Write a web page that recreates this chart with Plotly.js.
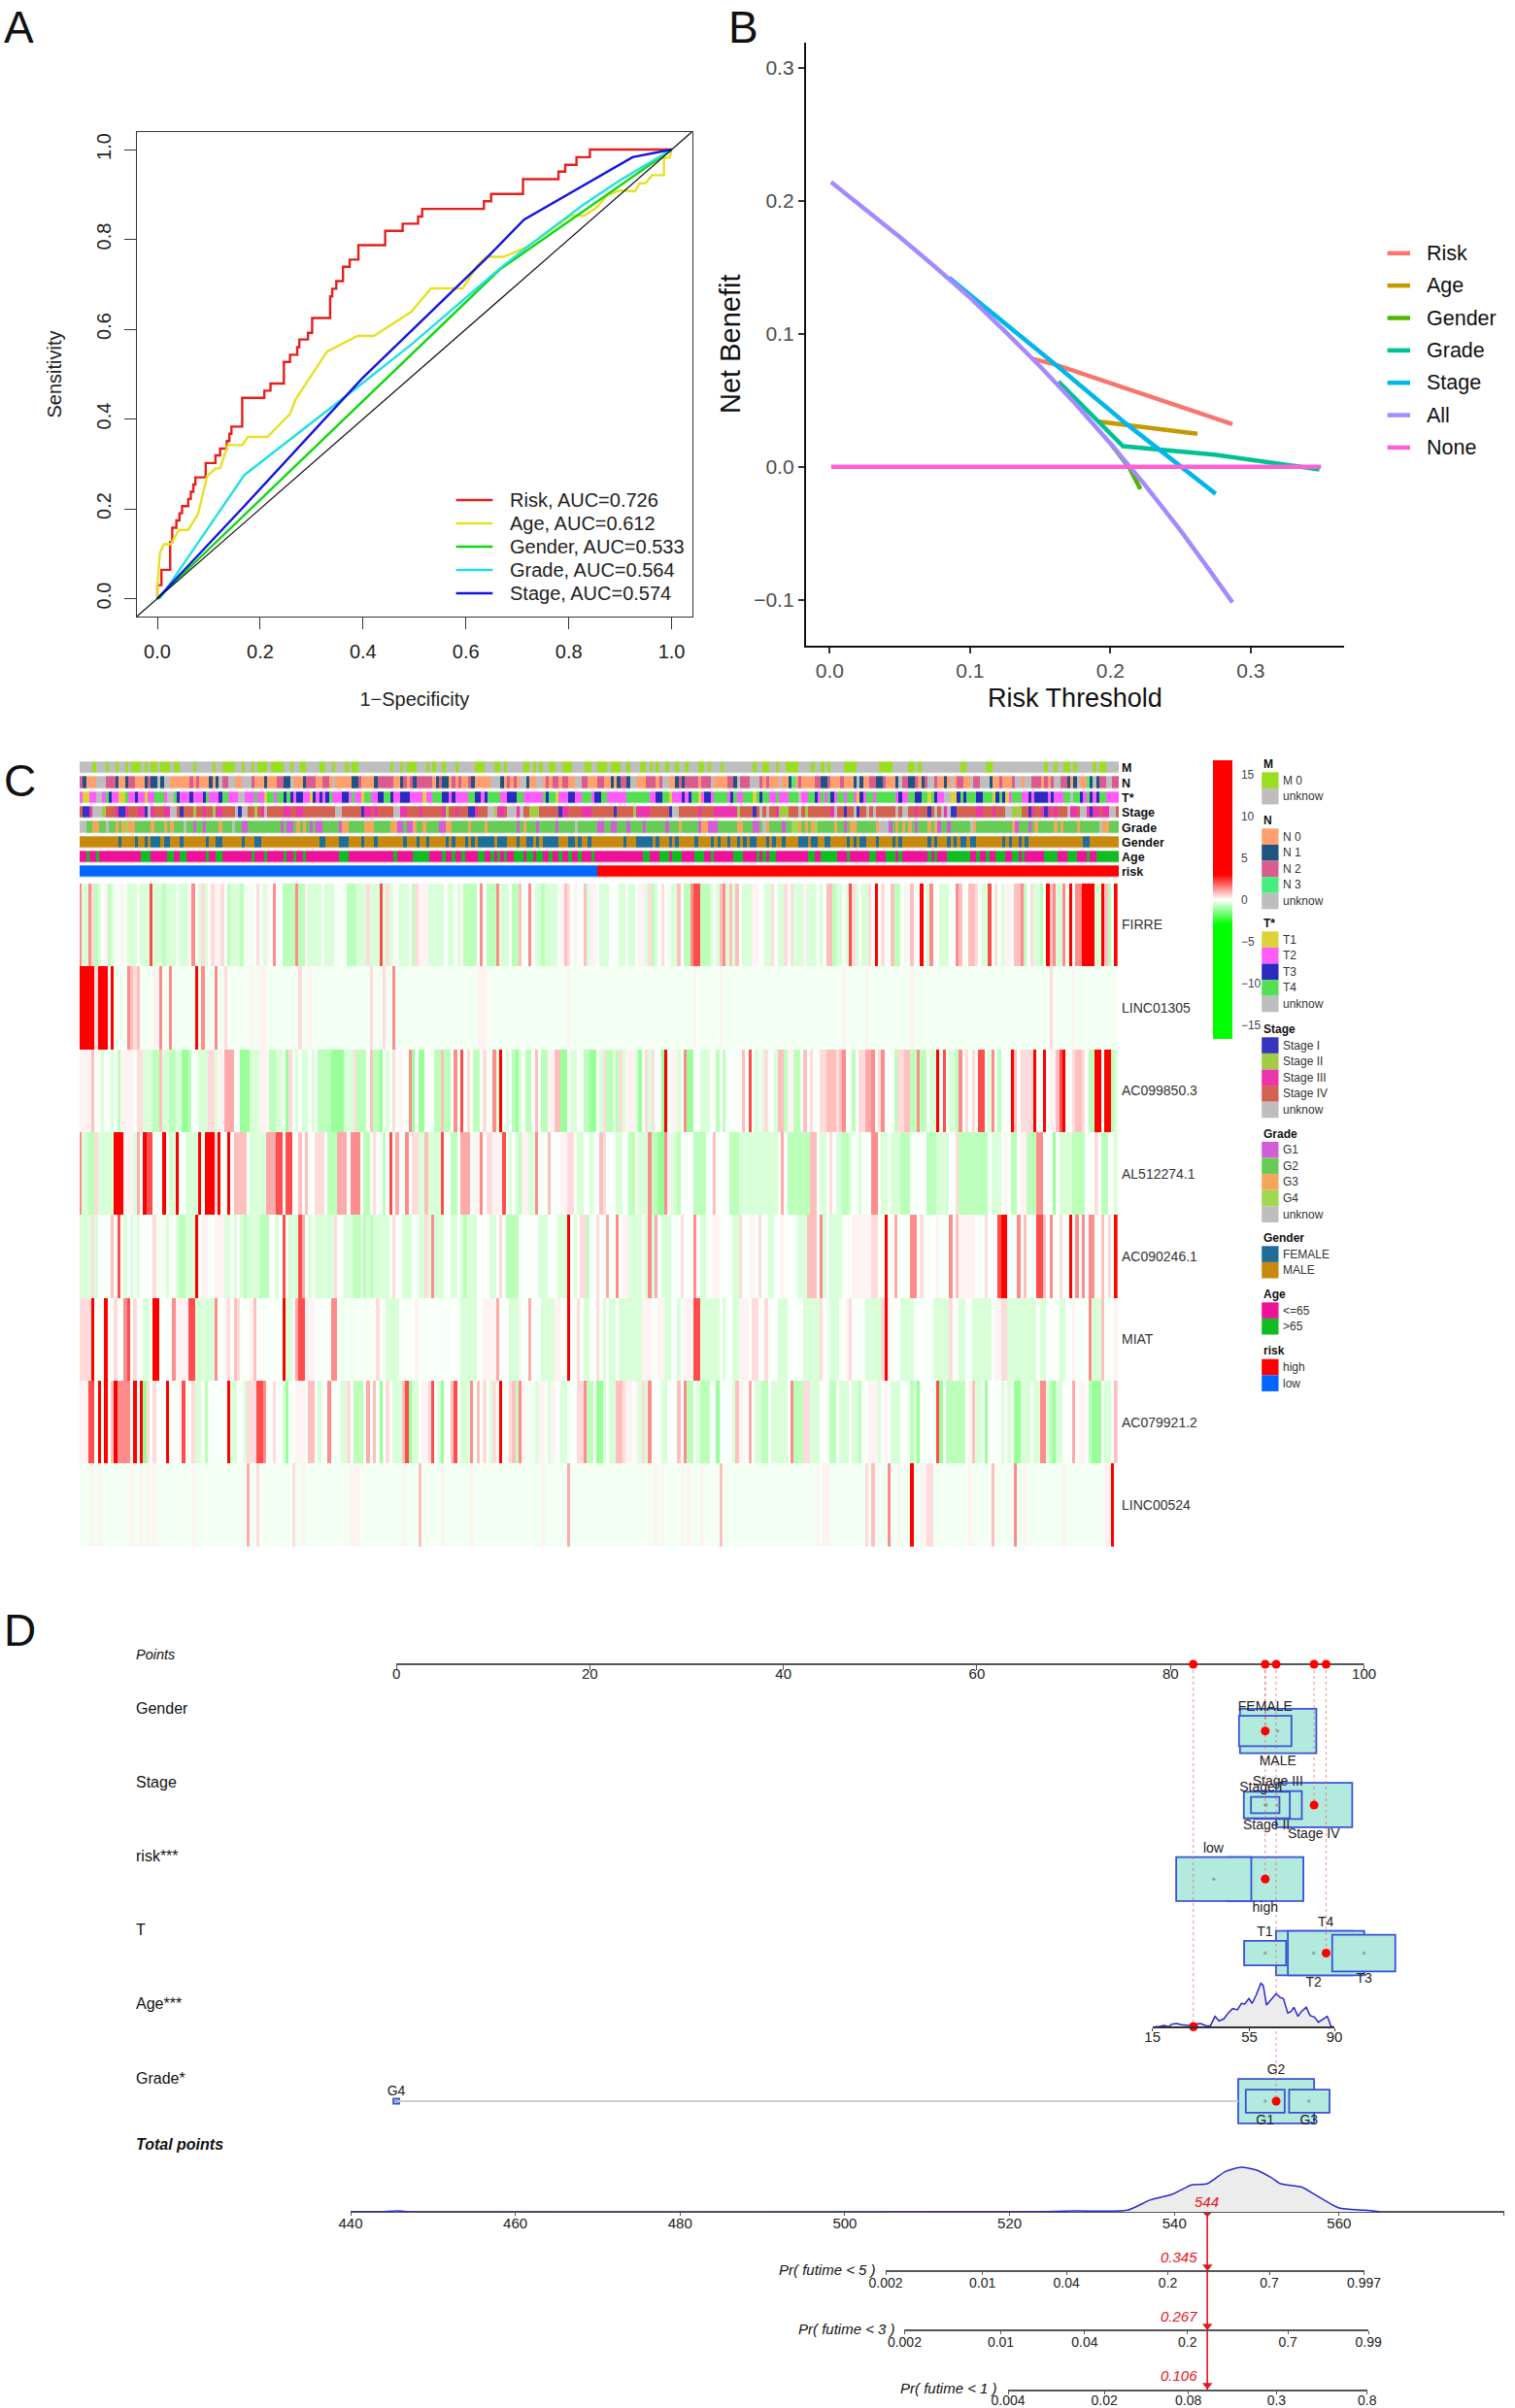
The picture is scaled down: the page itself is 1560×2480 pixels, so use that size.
<!DOCTYPE html>
<html><head><meta charset="utf-8">
<script src="https://cdn.plot.ly/plotly-3.0.1.min.js"></script>
<style>html,body{margin:0;padding:0;background:#fff}</style></head>
<body><div id="c" style="width:1560px;height:2480px"></div>
<script>
// ---------- Panel A: ROC ----------
const rocRiskX=[0,0,.008,.025,.029,.037,.043,.048,.06,.065,.07,.074,.094,.113,.122,.135,.14,.144,.165,.208,.22,.246,.258,.272,.276,.293,.301,.336,.34,.348,.361,.374,.391,.443,.477,.507,.515,.635,.649,.711,.78,.793,.815,.841,1];
const rocRiskY=[0,.03,.064,.126,.158,.174,.19,.206,.222,.238,.254,.27,.302,.319,.334,.351,.367,.383,.447,.463,.479,.527,.543,.56,.577,.592,.625,.673,.69,.707,.739,.755,.787,.819,.835,.851,.868,.885,.901,.934,.951,.966,.983,1,1];
const rocAgeX=[0,0,.005,.013,.026,.042,.06,.079,.097,.113,.122,.137,.165,.176,.214,.258,.269,.33,.389,.421,.494,.532,.594,.621,.639,.673,.719,.804,.831,.853,.875,.898,.929,.938,.949,.962,.985,.985,.996,1];
const rocAgeY=[0,.028,.102,.121,.121,.153,.153,.188,.273,.29,.29,.342,.342,.36,.36,.411,.444,.55,.585,.585,.639,.691,.691,.74,.761,.761,.783,.853,.853,.87,.898,.909,.907,.925,.925,.943,.943,.982,.982,1];
const rocGenderX=[0,.666,1];
const rocGenderY=[0,.733,1];
const rocGradeX=[0,.006,.169,.229,.398,.496,.666,.719,.826,.897,1];
const rocGradeY=[0,.002,.275,.328,.479,.568,.735,.783,.875,.93,1];
const rocStageX=[0,.169,.398,.639,.713,.924,1];
const rocStageY=[0,.206,.49,.757,.844,.983,1];
const rocLegend=['Risk, AUC=0.726','Age, AUC=0.612','Gender, AUC=0.533','Grade, AUC=0.564','Stage, AUC=0.574'];
const rocColors=['#e4201c','#e8e020','#10d810','#20e0e0','#1414e0'];

// ---------- Panel B: DCA ----------
const dcaNames=['Risk','Age','Gender','Grade','Stage','All','None'];
const dcaColors=['#F8766D','#C49A00','#53B400','#00C094','#00B6EB','#A58AFF','#FB61D7'];
const dcaX=[
 [.145,.16,.287],
 [.1906,.262],
 [.2,.2136,.2214],
 [.163,.209,.274,.349],
 [.085,.16,.211,.275],
 [.001,.025,.05,.075,.1,.125,.15,.175,.2,.225,.25,.27,.287],
 [.001,.35]];
const dcaY=[
 [.081,.077,.032],
 [.034,.0248],
 [.0175,-.001,-.0168],
 [.064,.0154,.009,-.002],
 [.142,.0775,.0325,-.0204],
 [.214,.1938,.1726,.1503,.127,.1017,.0753,.0474,.0175,-.0142,-.048,-.077,-.102],
 [0,0]];

// ---------- Panel C: heatmap ----------
const nCols=321;
const heatGenes=['FIRRE','LINC01305','AC099850.3','AL512274.1','AC090246.1','MIAT','AC079921.2','LINC00524'];
const heatLevelCodes={r:6,R:2.1,p:1.35,o:1,q:.75,s:.42,t:.15,W:-.07,w:-.13,g:-.45,G:-.8,H:-1.2};
const heatFIRRE='0p 1g 3p 4s 5G 6g 7W 8t 9G 10g 11w 13t 14w 15g 18W 19g 22R 23g 26G 27g 30w 31g 34t 35p 36W 37g 38s 39g 40W 41s 42t 44s 45W 46G 47g 50G 51w 54W 55s 56w 57g 58t 59W 60p 61W 63G 67p 68G 70t 71g 75W 76g 79W 80w 83G 86g 89s 90g 93R 94g 95s 96g 97w 99g 102W 103G 104s 105t 108g 113W 114g 116W 117g 118t 119G 123W 124p 125W 126G 129p 130g 133W 134G 136q 137W 139p 140W 141g 143G 144g 148W 149t 150q 151s 152W 153t 154W 156q 157g 158t 160W 161g 164W 167g 169W 170g 172W 173t 175g 176s 177G 178g 179W 180s 181W 182w 183g 185q 186W 187G 189p 190R 192G 195g 196W 197g 198q 199p 200g 201q 202g 203q 204W 205g 208t 210W 212g 214s 215W 216g 218s 219W 220s 221g 224t 225g 228W 229g 230W 231q 233G 234g 236W 237g 238R 239s 240g 241W 242g 244s 245W 246r 247W 248s 249W 251q 252G 254W 255t 256w 257q 258W 260r 261W 262g 263p 264W 266g 269W 271p 272q 273W 275q 277s 278W 279g 281R 282W 283s 284W 285g 286t 288W 289q 291p 292G 293W 294s 295g 297G 298W 299r 300q 301p 302g 304p 305w 306r 307W 308p 310r 314g 316r 317q 318G 319W 320r';
const heatLINC01305='0r 5s 6r 9W 10r 11w 15p 16q 17s 18q 19w 23t 25p 26w 28p 29w 36r 37w 38p 39w 42p 43w 45s 46w 53t 54w 56t 58w 68s 69w 71t 72w 90s 91w 94s 95w 97p 98w 123t 126w 151t 152w 190t 191w 198t 199w 236t 237w 243t 244w 257t 258w 300s 301w 307t 308w';
const heatAC099850='0t 4q 5W 7g 8W 10g 11W 12G 13t 17W 18s 20g 23G 25q 26g 28G 30g 32H 34G 35W 37g 40s 42g 43t 45o 48W 50H 53g 56t 59G 61g 63W 64H 65s 66W 67g 68W 69g 71W 72g 73W 74G 78H 82g 85s 86G 89W 90q 91G 93H 94W 95g 96W 97s 98W 99t 100W 102p 103H 104W 105H 107W 108W 110G 112q 113G 115W 116p 117W 118R 119W 120s 121W 122G 124W 125s 126W 128p 129g 130r 131W 132g 133W 134G 135H 136g 137W 138G 140W 141q 142W 143G 145t 147q 149H 151W 152g 154W 156G 158H 160W 161g 162s 163G 165g 166G 167s 168g 169t 172g 173H 174W 175s 176g 177s 178W 180H 181r 182W 183t 185g 186W 187p 188H 190W 192g 195W 197G 198W 199G 200W 205q 206W 207R 208W 209g 210W 211g 212s 213W 215g 216q 218G 219t 221G 223W 224q 225W 226s 227W 229s 231q 234s 235q 236p 237W 239G 240W 241s 243o 245p 246W 247s 248p 249W 252G 253s 255q 257G 259p 260G 262W 263g 265r 266W 267R 268W 269g 271G 272p 273W 274s 275W 276s 277W 278R 280W 281g 282p 283W 284G 285W 288r 289q 290W 291s 295r 296W 298r 299W 300t 302q 303R 304r 305W 307s 308q 310s 311W 312G 314r 316W 317r 319G 320g';
const heatAL512274='0p 1g 3G 5s 6g 11r 14t 17g 18o 19W 20r 21R 23W 26r 27W 28g 30r 31W 33g 37r 38W 39r 42s 43r 44W 46r 47W 48q 52W 53g 58o 61R 63W 64R 66W 68q 69W 70q 71W 73s 76W 77G 80o 83W 84p 87W 88G 90W 91s 92W 94G 95W 96R 97W 98o 99W 101p 102W 103s 105g 107q 108g 112R 113W 115G 117W 118o 121W 122t 124p 125W 126s 128t 131R 132W 133g 134W 135g 136G 137t 139g 141p 142W 145q 146W 149t 151s 153W 154g 156W 158g 159W 161q 162s 163W 166g 168W 170G 172t 173g 176p 177G 179H 181p 182t 183g 185G 186W 190G 194W 196q 197W 201G 204g 216W 217o 218W 219G 226q 228W 229g 231W 232s 233W 234g 236G 238g 239W 241g 242W 245p 247W 248g 250W 251g 254G 257W 262G 265g 269W 271s 272G 281W 282g 285W 286t 287W 288G 290W 291t 293G 296p 298W 301H 302W 303g 307G 311W 314s 315W 316G 318W 320g';
const heatAC090246='0g 4s 5g 6W 10q 11W 12R 13W 14g 15W 16g 17W 18g 19W 23s 24w 27g 28W 30g 31G 33g 36r 37W 38t 40W 42t 45g 47W 48g 49W 50g 51G 52g 56G 59W 61g 62W 63R 64W 65g 68R 69o 70W 71g 72W 73g 79s 80W 82g 85G 87g 88G 89g 90G 91g 96W 97s 98W 100g 103W 105g 107s 108g 109p 110g 113W 115g 117W 118g 119G 120g 123W 127g 129W 130s 131W 132G 136W 142g 145W 148g 151r 152W 153g 154W 155s 157G 158W 160s 161W 163o 164W 166p 167W 168t 170g 174W 175g 176p 177g 178o 179W 180g 183W 186s 187W 190p 191W 192g 194W 196t 198W 202g 204s 205W 207t 209W 210s 211W 213g 215W 216W 217t 218W 222g 225q 228W 229p 230g 231W 232g 236W 239t 245s 247W 249r 250W 252o 253W 257p 259W 260s 261W 265t 266W 269p 270W 271q 272t 277W 280s 281W 284R 285r 287W 290p 291W 292q 293W 296R 298q 299W 300p 301W 303s 304W 306r 307W 308p 309W 310p 311W 312p 314W 316q 317W 318s 319W 320r';
const heatMIAT='0s 4r 5W 8r 9W 11s 12W 14p 15R 16W 17s 18W 20g 22W 23r 25W 29p 30t 34R 36g 42p 43W 45t 46s 47W 48q 49s 50W 53t 54q 55W 63r 64g 66t 67o 68R 70t 73W 78p 80w 86W 88w 90W 92s 93W 95g 99W 104t 105W 118g 123W 125t 129o 130W 133g 136t 137W 139o 140W 143g 147t 149W 151r 152W 154s 155W 156g 158W 160s 161W 162g 163W 164g 166W 167g 174t 177W 179t 181g 183W 185g 186W 187t 190R 192g 198W 199g 200W 202g 204t 207W 208s 210W 212s 213W 216g 219W 224g 229s 230W 232g 235W 237t 238s 239W 243g 248s 249r 250t 251W 254g 258W 264g 269s 270W 272g 274W 276g 282W 283t 285s 287g 296W 297g 299W 303g 305W 307t 308W 312p 313g 316q 317W 320t';
const heatAC079921='0t 3R 5W 6r 7W 8r 9W 10q 11r 12p 16W 17r 18W 19r 20H 21s 22W 23s 24W 27r 28W 31t 32R 33W 35s 36g 38W 39G 40W 46r 47g 49W 51g 52s 55R 57p 58W 60s 61W 63g 64H 65W 67t 70W 71q 73W 74g 75W 77p 78W 81g 83s 84W 85G 88W 89o 90W 91q 92W 93H 94W 95s 96W 97g 100q 101R 102H 103g 105W 106t 108s 109R 110W 111g 112H 113W 115q 116R 117W 118g 121p 122W 123q 124W 125s 126W 127g 128s 129W 130r 131W 133s 134q 135G 136p 137t 138w 141g 142t 144W 145g 146t 147W 149g 151W 154s 156p 157G 159W 160H 162g 163W 164g 166q 168s 169t 171W 172t 173g 174s 175g 176p 177W 180g 182W 185q 186W 187p 188G 190W 191g 192G 195W 197H 198W 202g 203q 204t 206W 207o 208W 209g 211G 213W 214g 216g 219W 220p 221G 224s 226g 229W 232G 234W 235g 238W 239g 241G 242W 244t 247g 248W 249t 250W 251g 254W 257G 258g 259H 260W 265R 266H 267W 268G 274W 275t 276q 277g 279W 280H 281W 285g 286W 287g 288W 289H 291g 294W 295g 297p 299g 300G 301H 302g 304W 307o 308W 309t 311W 312G 313H 316W 317g 319W 320q';
const heatLINC00524='0w 4t 5w 6t 7w 16t 17w 19t 20w 21t 22w 23t 24w 35t 36w 52o 53w 55s 56w 66s 67w 69t 70w 84t 87w 100t 101w 105q 106w 112t 113w 121t 122w 143t 144w 151o 152w 178t 179w 180t 181w 186t 187w 188t 189w 192t 193w 198q 199w 228t 229w 230t 232w 243s 244w 245q 246w 250p 251w 253t 254w 257r 258w 260t 262s 264w 275t 276w 282q 283w 289p 290w 292t 293w 304t 305w 317t 319r 320W';
const heatRows=[heatFIRRE,heatLINC01305,heatAC099850,heatAL512274,heatAC090246,heatMIAT,heatAC079921,heatLINC00524];
const colorbarTicks=[15,10,5,0,-5,-10,-15];

const annoNames=['M','N','T*','Stage','Grade','Gender','Age','risk'];
const annoCodes={u:'#bebebe',A:'#9ade22',a:'#ffa06e',b:'#1f5380',c:'#da5c8e',d:'#47ee7e',e:'#ddd236',f:'#ff5cff',g:'#2a2abf',h:'#52e052',i:'#3535c0',j:'#a2cc44',k:'#ed33ae',l:'#d4604f',m:'#d35cd8',n:'#66cc55',o:'#f5a55a',p:'#a0d84e',q:'#1f6e98',r:'#c8890f',s:'#ee1199',t:'#11bb22',v:'#ff0000',x:'#0066ff'};
const annoM='0u 4A 5u 8A 9u 11A 12u 14A 15u 16A 19u 20A 21u 22A 24u 25A 28u 29A 31u 35A 36u 41A 42u 44A 48u 50A 51u 53A 54u 55A 58u 59A 63u 65A 66u 68A 70u 74A 76u 78A 79u 82A 83u 84A 86u 96A 97u 99A 100u 101A 104u 107A 108u 109A 110u 112A 113u 116A 117u 122A 125u 128A 130u 131A 132u 137A 139u 140A 141u 142A 143u 145A 147u 149A 152u 156A 158u 160A 163u 164A 167u 169A 170u 173A 175u 176A 177u 178A 179u 181A 182u 184A 185u 187A 188u 191A 193u 194A 195u 198A 199u 208A 209u 211A 213u 215A 216u 218A 222u 226A 227u 229A 230u 231A 232u 236A 240u 247A 251u 256A 258u 259A 260u 272A 274u 280A 282u 298A 299u 301A 302u 304A 306u 307A 308u 313A 314u 315A 317u';
const annoN='0c 1b 2a 5u 8c 11b 12a 14b 15c 17a 20b 21c 22b 24u 25b 26u 28a 34c 35a 36c 37a 40b 41a 42b 43u 44c 46u 48a 50u 53c 54a 57b 58a 61c 63b 65u 66a 69b 70c 73a 75c 77a 78u 79a 84b 86c 87a 91b 92c 97a 99b 100c 101a 102c 103b 104c 109a 110b 111c 112b 114a 115c 116a 117c 118a 120c 121b 122a 127u 130b 131a 132c 133a 134c 135a 136u 138b 139a 141u 143a 144c 145a 146c 148a 149c 151a 153u 155c 157a 160c 162a 164b 165a 166b 167c 169b 170u 172a 175c 178a 179c 180u 182a 184b 185c 186b 187c 191a 192c 195u 196a 200c 202b 203u 204c 207u 210c 211a 212c 213a 216u 217a 219b 220d 221a 222c 223a 227c 229b 231c 232a 235c 236a 239b 240u 241b 242a 244c 246b 248c 249a 252b 253u 254c 256b 258c 259a 260b 261c 262u 264c 265a 267b 268a 269u 270a 271c 273a 275u 276c 278u 281b 282a 284c 285a 288c 289u 291a 292u 294c 297a 298c 299a 300c 301u 303c 305b 306a 307b 308u 309a 311d 312b 313u 314b 315c 317u 319c';
const annoT='0f 1e 3f 5u 7f 8h 9g 10f 12e 14h 15f 17g 18f 20e 21f 23h 26f 27u 29h 30g 31f 34g 35f 38g 39h 40f 43g 44h 46f 49u 51f 54h 55f 57e 58h 60f 61h 63g 64h 65g 66f 67g 69f 71e 72g 73f 74g 75f 76g 77h 78f 81g 83f 84h 85f 87e 88h 90f 92g 94h 96g 97f 99g 102f 106e 107f 109h 112g 114f 115g 116f 120h 122g 124f 125g 126h 130f 132g 135h 137f 143h 144g 145h 147e 148f 151g 153f 155h 158f 159g 161h 163f 169h 176f 178g 180h 182e 183f 186g 187f 188g 189h 191e 192f 193g 195f 196h 200f 201g 202h 203f 205h 208e 209h 210g 211h 213f 215h 216f 219h 222u 223f 225h 227g 228f 229h 230f 231h 232g 233f 234h 236f 237h 239f 240e 241g 242f 243h 245f 246h 252f 253g 254f 256h 258g 260h 262e 263h 264g 265f 267u 269e 271g 272h 273g 274h 277g 279h 282e 283g 284h 285g 286e 287f 288h 291f 293g 294f 295g 299f 300g 301f 304h 306u 307h 309g 310f 311h 312g 313f 314g 315h 317f';
const annoStage='0l 1i 3k 4u 7j 8l 11k 12i 14k 15l 18k 20i 21u 22k 23l 26k 28u 30l 31i 32l 35j 36l 38k 39l 41j 42k 44l 48u 49i 50u 52l 54j 55l 56k 57u 58l 63k 65l 67k 69l 79u 81l 87i 88k 90l 91k 92l 97u 99k 101l 105k 106l 112k 113j 114l 116k 117l 120i 122k 123l 126u 128j 129k 131l 132u 135k 136u 137l 139j 142l 148i 149k 151l 155k 158l 165i 166l 171j 172k 176l 182i 183u 185l 191k 192l 196k 202k 203j 204l 208i 209l 210u 211l 212u 213l 215k 216j 219l 222u 223l 224j 225l 232k 233u 234l 236i 237l 239u 240i 241l 243u 244l 245u 246l 252u 253l 254u 256l 258k 259l 262i 263l 264u 265l 266u 267k 268u 269i 271l 277k 279l 282k 283l 286u 288j 291l 293i 294k 295l 297k 298i 299k 300l 301k 302l 305u 306k 308l 309u 311k 312i 313k 315l 316k 318u 320l';
const annoGrade='0u 2n 4o 6n 8u 9n 11o 12n 13o 14p 15o 17n 22o 23n 26o 27n 28o 29n 32u 33n 35m 36n 38m 39n 43o 44n 47u 48n 50m 52n 62m 63n 64m 66n 67o 68n 69o 70n 71m 72n 73m 75n 80m 81o 83n 88o 91n 96o 98m 100n 101m 103o 104n 106o 107n 111m 113o 115n 120o 121n 125o 126n 135m 136n 137o 138n 141m 142n 147m 148n 153u 154n 160m 162n 164m 166n 169m 170n 174m 175n 181m 182n 185o 186n 191m 192o 194m 197n 203o 205n 208m 210n 211u 212o 213n 217m 218n 220p 222o 223n 224o 225n 226o 227p 228n 233o 234n 236m 237n 238o 240n 246o 247u 250m 251n 252o 253n 254o 255n 256o 257n 258m 259n 262o 263n 264o 265m 266n 268m 269n 275u 276o 277n 288o 289m 290n 293m 294n 295o 296n 301o 302n 303o 304n 308o 309n 315u 316o 318n';
const annoGender='0r 12q 13r 17q 18r 20q 21r 22q 25r 26q 28r 31q 32r 39q 40r 42q 44r 50q 51r 54q 56r 74q 76r 80q 83r 87q 88r 91q 92r 100q 101r 104q 105r 107q 108r 113q 114r 115q 116r 119q 120r 121q 122r 123q 128r 129q 132r 135q 136r 138q 140r 141q 142r 143q 148r 151q 153r 154q 155r 157q 158r 168q 169r 172q 177r 178q 179r 182q 183r 184q 185r 190q 191r 195q 196r 197q 198r 200q 201r 203q 204r 205q 206r 207q 209r 212q 213r 214q 215r 217q 218r 222q 225r 226q 228r 230q 232r 237q 238r 239q 240r 241q 243r 246q 247r 251q 252r 253q 254r 262q 263r 264q 265r 268q 269r 270q 271r 272q 274r 275q 277r 285q 286r 287q 288r 290q 291r 292q 293r 310q 312r';
const annoAge='0s 2t 3s 5t 6s 19t 22s 27t 29s 31t 33s 39t 40s 42t 44s 53t 54s 57t 58s 63t 64s 66t 67s 69t 70s 80t 83s 97t 98s 103t 108s 112t 113s 115t 116s 118t 119s 123t 125s 127t 128s 129t 130s 131t 132s 134t 137s 138t 140s 141t 143s 145t 146s 148t 149s 151t 152s 154t 155s 158t 159s 174t 176s 179t 182s 183t 186s 190t 193s 195t 196s 202t 205s 209t 210s 211t 212s 213t 215s 225t 227s 229t 234s 237t 238s 244t 246s 249t 252s 253t 254s 262t 263s 264t 265s 268t 275s 277t 278s 280t 281s 283t 286s 288t 290s 291t 292s 298t 302s 305t 308s 311t 312s 314t';
const annoRisk='0x 160v';
const annoRows=[annoM,annoN,annoT,annoStage,annoGrade,annoGender,annoAge,annoRisk];

const legendTitles=['M','N','T*','Stage','Grade','Gender','Age','risk'];
const legendLabels=[['M 0','unknow'],['N 0','N 1','N 2','N 3','unknow'],['T1','T2','T3','T4','unknow'],['Stage I','Stage II','Stage III','Stage IV','unknow'],['G1','G2','G3','G4','unknow'],['FEMALE','MALE'],['<=65','>65'],['high','low']];
const legendKeys=[['A','u'],['a','b','c','d','u'],['e','f','g','h','u'],['i','j','k','l','u'],['m','n','o','p','u'],['q','r'],['s','t'],['v','x']];

// ---------- Panel D: nomogram ----------
const pointTicks=[0,20,40,60,80,100];
const totalTicks=[440,460,480,500,520,540,560,580];
const ageTicks=[15,55,90];
const ageVals=[16,17.7,19.7,21.7,23,25,27,29.7,32.4,34.8,37,38.8,40.8,42.4,44.4,46.4,48.1,50,51.7,53,54.8,56.1,57.7,59.7,60.7,62,63.7,66,67.7,69,70.8,72.1,73.3,75,76.4,78.4,80,81.8,83.4,85.1,87.1,88.7,89.5];
const ageDensity=[0,0,.017,0,.035,.044,.026,.017,.035,.044,.013,.009,.14,.079,.105,.192,.245,.227,.315,.306,.38,.315,.424,.586,.555,.293,.358,.446,.393,.38,.184,.205,.262,.14,.205,.262,.149,.131,.061,.096,.14,0,0];
const totalVals=[440,443.5,445.6,447.6,521.9,528,534.3,537.1,539.8,542.1,544,546.2,548.1,549.9,551.7,552.9,555.4,557.3,560,563.2,565];
const totalDensity=[0,0,.013,0,0,.013,.022,.162,.24,.363,.38,.546,.603,.568,.468,.38,.337,.219,.052,.022,0];
const rowNames=['Gender','Stage','risk***','T','Age***','Grade*'];
const rowValues=[5,4,3,2,1.006,0];
const selectedPoints=[89.79,94.84,89.79,96.08,82.35,90.92];
const topDots=[82.35,89.79,90.92,94.84,96.08];
const selectedAge=32;
const boxLabels=['MALE','FEMALE','Stage IV','Stage III','Stage II','Stage I','high','low','T2','T4','T3','T1','G2','G1','G3','G4'];
const boxRow=[5,5,4,4,4,4,3,3,2,2,2,2,0,0,0,0];
const boxLeft=[87.18,87.08,90.92,88.65,87.58,88.32,85.85,80.59,90.9,92.13,96.71,87.61,87,87.78,92.26,-.3];
const boxRight=[95.07,92.5,98.78,93.57,92.33,91.26,93.73,88.35,98.78,100.02,103.23,91.95,94.84,91.8,96.44,.3];
const boxHalf=[.3,.205,.3,.188,.18,.109,.297,.297,.3,.3,.247,.166,.3,.155,.155,.035];
const boxCentre=[91.09,89.79,94.84,91.09,89.9,89.79,89.79,84.47,94.81,96.08,99.99,89.79,90.92,89.79,94.3,0];
const catLabelX=[91.09,89.79,94.8,91.09,89.92,89.35,89.79,84.44,94.8,96.04,100,89.75,90.92,89.78,94.3,0];
const catLabelY=[4.586,5.316,3.6,4.315,3.721,4.236,2.602,3.401,1.592,2.409,1.64,2.274,.411,-.262,-.262,.131];
const pr5Pos=[504.96,516.7,526.9,539.2,551.5,563];
const pr5Lab=['0.002','0.01','0.04','0.2','0.7','0.997'];
const pr3Pos=[507.2,518.9,529.1,541.6,553.8,563.6];
const pr3Lab=['0.002','0.01','0.04','0.2','0.7','0.99'];
const pr1Pos=[519.8,531.5,541.7,552.4,563.4];
const pr1Lab=['0.004','0.02','0.08','0.3','0.8'];
const totalPoint=544;
const prValues=['0.345','0.267','0.106'];

// ---------- helpers ----------
const W=1560,H=2480,FONT='"Liberation Sans",Arial,sans-serif';
const px=x=>x/W, py=y=>1-y/H;
function decode(s,conv){
  const out=new Array(nCols).fill(null);
  const toks=s.split(' ').map(t=>[parseInt(t,10),t[t.length-1]]);
  toks.forEach((t,i)=>{
    const end=i+1<toks.length?toks[i+1][0]:nCols;
    for(let c=t[0];c<end&&c<nCols;c++)out[c]=conv(t[1]);
  });
  return out;
}
const annotations=[],shapes=[];
function txt(x,y,text,o={}){
  annotations.push(Object.assign({xref:'paper',yref:'paper',x:px(x),y:py(y),text,showarrow:false,xanchor:'left',yanchor:'middle',
    font:{family:FONT,size:o.size||14,color:o.color||'#111',weight:o.weight,style:o.style}},o.extra||{}));
}
const traces=[];

// A
[[rocRiskX,rocRiskY,'hv'],[rocAgeX,rocAgeY,'linear'],[rocGenderX,rocGenderY,'linear'],[rocGradeX,rocGradeY,'linear'],[rocStageX,rocStageY,'linear']].forEach((s,i)=>{
  traces.push({type:'scatter',mode:'lines',x:s[0],y:s[1],xaxis:'x',yaxis:'y',line:{color:rocColors[i],width:2.4,shape:s[2]},hoverinfo:'skip',showlegend:false});
});
traces.push({type:'scatter',mode:'lines',x:[-.04,1.04],y:[-.04,1.04],xaxis:'x',yaxis:'y',line:{color:'#111',width:1.2},hoverinfo:'skip',showlegend:false});
rocLegend.forEach((t,i)=>{
  const y=515+i*24;
  shapes.push({type:'line',xref:'paper',yref:'paper',x0:px(469.6),x1:px(507.3),y0:py(y),y1:py(y),line:{color:rocColors[i],width:2.4}});
  txt(523,y,t,{size:20,color:'#222'});
});
// B
dcaNames.forEach((n,i)=>{
  traces.push({type:'scatter',mode:'lines',x:dcaX[i],y:dcaY[i],xaxis:'x2',yaxis:'y2',line:{color:dcaColors[i],width:4.5},hoverinfo:'skip',showlegend:false});
  const y=260.8+i*33.35;
  shapes.push({type:'line',xref:'paper',yref:'paper',x0:px(1428.6),x1:px(1452),y0:py(y),y1:py(y),line:{color:dcaColors[i],width:4.5}});
  txt(1467,y,n,{size:21.5,color:'#111'});
});
// C
const cs=[[0,'#00ff00'],[.41,'#00ff00'],[.5,'#ffffff'],[.59,'#ff0000'],[1,'#ff0000']];
traces.push({type:'heatmap',xaxis:'x3',yaxis:'y3',x:[...Array(nCols).keys()].map(i=>i-.4),y:heatGenes,
  z:heatRows.map(r=>decode(r,c=>heatLevelCodes[c])),zmin:-16.7,zmax:16.7,colorscale:cs,hoverinfo:'skip',zsmooth:false,
  colorbar:{x:px(1249),xanchor:'left',xref:'paper',y:py(783),yanchor:'top',yref:'paper',lenmode:'pixels',len:287,thicknessmode:'pixels',thickness:20,
    xpad:0,ypad:0,outlinewidth:0,ticks:'outside',ticklen:7,tickcolor:'rgba(0,0,0,0)',tickvals:colorbarTicks,tickfont:{family:FONT,size:12,color:'#444'}}});
const codeKeys=Object.keys(annoCodes);
const nk=codeKeys.length;
const annoScale=[];
codeKeys.forEach((k,i)=>{annoScale.push([i/nk,annoCodes[k]]);annoScale.push([(i+1)/nk,annoCodes[k]]);});
traces.push({type:'heatmap',xaxis:'x3',yaxis:'y4',x:[...Array(nCols).keys()],y:annoNames,
  z:annoRows.map(r=>decode(r,c=>codeKeys.indexOf(c)+.5)),zmin:0,zmax:nk,colorscale:annoScale,showscale:false,ygap:3.4,hoverinfo:'skip',zsmooth:false});
// annotation legend
const legendTitleY=[787,845,951,1060,1167.6,1275,1333,1391.4];
legendTitles.forEach((t,g)=>{
  txt(1299,legendTitleY[g],t,{size:12,weight:'bold',color:'#111'});
  legendLabels[g].forEach((lab,i)=>{
    const y=legendTitleY[g]+16.6+i*16.6;
    shapes.push({type:'rect',xref:'paper',yref:'paper',x0:px(1299.2),x1:px(1316.5),y0:py(y-8.3),y1:py(y+8.3),fillcolor:annoCodes[legendKeys[g][i]],line:{width:0}});
    txt(1319,y,lab.replace('<','&lt;'),{size:12,color:'#333'});
  });
});
// D
const layerDot={type:'scatter',xaxis:'x4',yaxis:'y5',hoverinfo:'skip',showlegend:false,cliponaxis:false};
boxLabels.forEach((b,i)=>{
  shapes.push({type:'rect',xref:'x4',yref:'y5',layer:'below',x0:boxLeft[i],x1:boxRight[i],y0:boxRow[i]-boxHalf[i],y1:boxRow[i]+boxHalf[i],fillcolor:'#b2ebdd',line:{color:'#3b50d6',width:1.8}});
});
traces.push(Object.assign({},layerDot,{mode:'lines',x:[0,87],y:[0,0],line:{color:'#cfcfcf',width:2}}));
traces.push(Object.assign({},layerDot,{mode:'lines',x:[pointTicks[0],pointTicks[5]],y:[5.902,5.902],line:{color:'#555',width:2}}));
traces.push(Object.assign({},layerDot,{mode:'markers',x:boxCentre,y:boxRow,marker:{color:'#8fa8a0',size:3.5}}));
const dotX=[],dotY=[];
selectedPoints.forEach((p,i)=>{dotX.push(p,p,null);dotY.push(5.902,rowValues[i],null);});
traces.push(Object.assign({},layerDot,{mode:'lines',x:dotX,y:dotY,line:{color:'rgba(240,70,70,.5)',width:1.2,dash:'dot'}}));
traces.push(Object.assign({},layerDot,{mode:'markers',x:selectedPoints.concat(topDots),y:rowValues.concat(topDots.map(()=>5.902)),marker:{color:'#ff0000',size:9}}));
traces.push(Object.assign({},layerDot,{mode:'text',x:catLabelX,y:catLabelY,text:boxLabels,textposition:'middle center',textfont:{family:FONT,size:14,color:'#222'}}));
// densities
traces.push({type:'scatter',mode:'lines',x:ageVals,y:ageDensity,xaxis:'x6',yaxis:'y7',fill:'tozeroy',fillcolor:'#ececec',line:{color:'#2a2ad0',width:1.5},hoverinfo:'skip',showlegend:false});
traces.push({type:'scatter',mode:'markers',x:[selectedAge],y:[0],xaxis:'x6',yaxis:'y7',cliponaxis:false,marker:{color:'#ff0000',size:9},hoverinfo:'skip',showlegend:false});
traces.push({type:'scatter',mode:'lines',x:totalVals,y:totalDensity,xaxis:'x5',yaxis:'y6',fill:'tozeroy',fillcolor:'#ececec',line:{color:'#2a2ad0',width:1.5,shape:'spline',smoothing:.6},hoverinfo:'skip',showlegend:false});
// red read-off line
traces.push({type:'scatter',mode:'lines',x:[totalPoint,totalPoint],y:[-1.495,-3.9],xaxis:'x5',yaxis:'y5',line:{color:'#e8141c',width:1.6},hoverinfo:'skip',showlegend:false});
traces.push({type:'scatter',mode:'markers',x:[totalPoint],y:[-1.495],xaxis:'x5',yaxis:'y5',marker:{symbol:'diamond',color:'#e8141c',size:8},hoverinfo:'skip',showlegend:false});
[['x7',-2.3],['x8',-3.1],['x9',-3.9]].forEach(a=>{
  traces.push({type:'scatter',mode:'markers',x:[totalPoint],y:[a[1]+.065],xaxis:a[0],yaxis:'y5',cliponaxis:false,marker:{symbol:'triangle-down',color:'#e8141c',size:9},hoverinfo:'skip',showlegend:false});
});
// row labels
txt(138,1704,'Points',{size:14.5,style:'italic',color:'#111'});
rowNames.forEach((n,i)=>txt(138,1759+i*76.2,n,{size:16,color:'#111'}));
txt(138,2208.6,'Total points',{size:16,weight:'bold',style:'italic',color:'#111'});
const red='#e8141c';
txt(1242.7,2267.7,String(totalPoint),{size:15,style:'italic',color:red,extra:{xanchor:'center'}});
[2324,2385,2446.7].forEach((y,i)=>txt(1214,y,prValues[i],{size:15,style:'italic',color:red,extra:{xanchor:'center'}}));
[[904,2337,5],[924,2398,3],[1029,2459.7,1]].forEach(p=>txt(p[0],p[1],'Pr( futime &lt; '+p[2]+' )',{size:15,style:'italic',color:'#111',extra:{xanchor:'right'}}));
// panel letters
[['A',2,28],['B',748,28],['C',2,804],['D',2,1679]].forEach(l=>txt(l[1],l[2],l[0],{size:46,color:'#111'}));

const baseAx={showgrid:false,zeroline:false};
const tf=(s,c)=>({family:FONT,size:s,color:c||'#222'});
const prAxis=(x0,x1,vals,labs,y,off)=>Object.assign({},baseAx,{domain:[px(x0),px(x1)],range:[vals[0],vals[vals.length-1]],anchor:'free',position:py(y),
  tickmode:'array',tickvals:vals,ticktext:labs,ticks:'outside',ticklen:3,tickcolor:'#555',showline:true,linecolor:'#555',linewidth:2,tickfont:tf(14),ticklabelstandoff:off,side:'bottom'});

const layout={width:W,height:H,margin:{l:0,r:0,t:0,b:0,autoexpand:false},paper_bgcolor:'#fff',plot_bgcolor:'rgba(0,0,0,0)',showlegend:false,font:{family:FONT},annotations,shapes,
 xaxis:Object.assign({},baseAx,{domain:[px(141),px(712.6)],range:[-.0397,1.0397],anchor:'y',tickmode:'array',tickvals:[0,.2,.4,.6,.8,1],ticktext:['0.0','0.2','0.4','0.6','0.8','1.0'],ticks:'outside',ticklen:12,tickcolor:'#333',showline:true,mirror:true,linecolor:'#333',linewidth:1.4,tickfont:tf(20,'#222'),ticklabelstandoff:6,
   title:{text:'1−Specificity',font:tf(20,'#222'),standoff:31}}),
 yaxis:Object.assign({},baseAx,{domain:[py(635),py(136)],range:[-.04,1.039],anchor:'x',tickmode:'array',tickvals:[0,.2,.4,.6,.8,1],ticktext:['0.0','0.2','0.4','0.6','0.8','1.0'],tickangle:-90,ticks:'outside',ticklen:12,tickcolor:'#333',showline:true,mirror:true,linecolor:'#333',linewidth:1.4,tickfont:tf(20,'#222'),ticklabelstandoff:6,
   title:{text:'Sensitivity',font:tf(20,'#222'),standoff:26}}),
 xaxis2:Object.assign({},baseAx,{domain:[px(829.8),px(1384)],range:[-.017,.3665],anchor:'y2',tickmode:'array',tickvals:[0,.1,.2,.3],ticktext:['0.0','0.1','0.2','0.3'],ticks:'outside',ticklen:6,tickwidth:2,tickcolor:'#333',showline:true,linecolor:'#111',linewidth:2,tickfont:tf(21,'#4d4d4d'),
   title:{text:'Risk Threshold',font:tf(27,'#111'),standoff:8}}),
 yaxis2:Object.assign({},baseAx,{domain:[py(664.8),py(43.6)],range:[-.1344,.319],anchor:'x2',tickmode:'array',tickvals:[-.1,0,.1,.2,.3],ticktext:['−0.1','0.0','0.1','0.2','0.3'],ticks:'outside',ticklen:6,tickwidth:2,tickcolor:'#333',showline:true,linecolor:'#111',linewidth:2,tickfont:tf(21,'#4d4d4d'),
   title:{text:'Net Benefit',font:tf(29,'#111'),standoff:5}}),
 xaxis3:{domain:[px(82),px(1152)],range:[-.5,nCols-.5],anchor:'y3',visible:false,showgrid:false,zeroline:false},
 yaxis3:{domain:[py(1593),py(909.8)],autorange:'reversed',type:'category',anchor:'x3',side:'right',showgrid:false,zeroline:false,ticks:'',tickfont:tf(14,'#333'),ticklabelstandoff:2},
 yaxis4:{domain:[py(905.7),py(783.3)],autorange:'reversed',type:'category',anchor:'x3',side:'right',showgrid:false,zeroline:false,ticks:'',tickfont:{family:FONT,size:12.5,color:'#111',weight:'bold'},ticklabelstandoff:2},
 xaxis4:Object.assign({},baseAx,{domain:[0,1],range:[-40.95,115.6],anchor:'free',position:py(1714),side:'bottom',tickmode:'array',tickvals:pointTicks,ticks:'outside',ticklen:5,tickcolor:'#555',showline:false,tickfont:tf(15),ticklabelstandoff:-9}),
 yaxis5:{domain:[0,800/H],range:[-4.144,6.348],visible:false,showgrid:false,zeroline:false,anchor:'x4'},
 xaxis5:Object.assign({},baseAx,{domain:[px(361),px(1548.5)],range:[440,580],anchor:'free',position:py(2278),side:'bottom',tickmode:'array',tickvals:totalTicks,ticks:'outside',ticklen:3,tickcolor:'#555',showline:true,linecolor:'#555',linewidth:2,tickfont:tf(15),ticklabelstandoff:-5}),
 yaxis6:{domain:[py(2278),py(2278-76.25)],range:[0,1],visible:false,showgrid:false,zeroline:false,anchor:'x5'},
 xaxis6:Object.assign({},baseAx,{domain:[px(1186.7),px(1374)],range:[15,90],anchor:'free',position:py(2087.3),side:'bottom',tickmode:'array',tickvals:ageTicks,ticks:'outside',ticklen:3,tickcolor:'#333',showline:true,linecolor:'#333',linewidth:1.6,tickfont:tf(15),ticklabelstandoff:-7}),
 yaxis7:{domain:[py(2087.3),py(2087.3-76.25)],range:[0,1],visible:false,showgrid:false,zeroline:false,anchor:'x6'},
 xaxis7:prAxis(912,1404.6,pr5Pos,pr5Lab,2339.3,-4),
 xaxis8:prAxis(931.4,1409.2,pr3Pos,pr3Lab,2400,-4),
 xaxis9:prAxis(1038,1407.7,pr1Pos,pr1Lab,2461.7,-6)
};
Plotly.newPlot('c',traces,layout,{displayModeBar:false,staticPlot:true});
</script></body></html>
